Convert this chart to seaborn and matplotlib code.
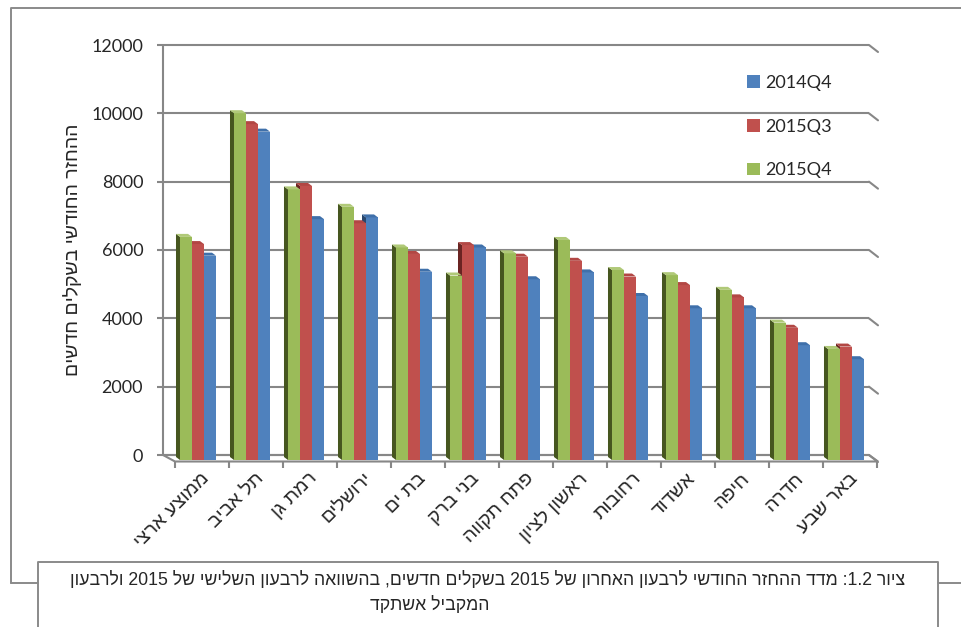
import re
import numpy as np
import pandas as pd
import matplotlib
matplotlib.use("Agg")
import matplotlib.pyplot as plt
import seaborn as sns
from matplotlib.patches import Polygon, Patch
from matplotlib.lines import Line2D
from matplotlib.transforms import ScaledTranslation

# ---------------- data ----------------
cities = ["ממוצע ארצי", "תל אביב", "רמת גן", "ירושלים", "בת ים", "בני ברק",
          "פתח תקווה", "ראשון לציון", "רחובות", "אשדוד", "חיפה", "חדרה", "באר שבע"]
q4_2015 = [6530, 10150, 7920, 7410, 6220, 5400, 6050, 6440, 5560, 5410, 4980, 4020, 3250]
q3_2015 = [6320, 9830, 8020, 6930, 6030, 6290, 5950, 5830, 5370, 5120, 4760, 3870, 3320]
q4_2014 = [5980, 9610, 7050, 7100, 5510, 6220, 5290, 5490, 4800, 4440, 4440, 3360, 2950]
series_names = ["2015Q4", "2015Q3", "2014Q4"]
legend_order = ["2014Q4", "2015Q3", "2015Q4"]
yticks = [0, 2000, 4000, 6000, 8000, 10000, 12000]
ylabel = "ההחזר החודשי בשקלים חדשים"
caption1 = "ציור 1.2: מדד ההחזר החודשי לרבעון האחרון של 2015 בשקלים חדשים, בהשוואה לרבעון השלישי של 2015 ולרבעון"
caption2 = "המקביל אשתקד"

colors = {"2015Q4": "#9BBB59", "2015Q3": "#C0504D", "2014Q4": "#4F81BD"}
side_colors = {"2015Q4": "#46561f", "2015Q3": "#6a2422", "2014Q4": "#29476d"}
top_colors = {"2015Q4": "#b0c978", "2015Q3": "#b24744", "2014Q4": "#3f70aa"}
GRID = "#878787"


def visual(s):
    """logical (RTL) Hebrew -> visual left-to-right order for matplotlib"""
    out = []
    for tok in reversed(s.split(" ")):
        r = tok[::-1]
        r = re.sub(r"[0-9][0-9.]*[0-9]|[0-9]", lambda m: m.group(0)[::-1], r)
        out.append(r)
    return " ".join(out)


df = pd.DataFrame({
    "city": cities * 3,
    "series": ["2015Q4"] * 13 + ["2015Q3"] * 13 + ["2014Q4"] * 13,
    "value": q4_2015 + q3_2015 + q4_2014,
})

sns.set_style("white")
HEB = ["Liberation Sans", "DejaVu Sans"]
NUM = ["Lato", "DejaVu Sans"]

W, H = 962, 627
fig = plt.figure(figsize=(W / 100, H / 100), dpi=100)
fig.patch.set_facecolor("white")


def axes_px(x0, y0, x1, y1):
    return fig.add_axes([x0 / W, 1 - y1 / H, (x1 - x0) / W, (y1 - y0) / H])


# ---------------- back wall ----------------
wall = axes_px(163, 45, 869, 455)
wall.set_zorder(0)
wall.set_xlim(0, 1)
wall.set_ylim(0, 12000)
wall.patch.set_visible(False)
for s in wall.spines.values():
    s.set_visible(False)
wall.set_xticks([])
wall.set_yticks(yticks)
wall.set_yticklabels([str(v) for v in yticks], family=NUM, fontsize=13)
wall.tick_params(axis="y", length=4.3, width=1.5, color=GRID, pad=10, left=True)


def wall_pt(xp, yp):
    return wall.transData.inverted().transform((xp, H - yp))


# floor
fl = [wall_pt(163, 455), wall_pt(869, 455), wall_pt(878, 461.5), wall_pt(175, 461.5)]
wall.add_patch(Polygon(fl, closed=True, facecolor="white", edgecolor=GRID, lw=1.5,
                       clip_on=False, zorder=1))
wall.hlines(yticks, 0, 1, colors=GRID, lw=1.5, clip_on=False, zorder=2)
wall.vlines(0, 0, 12000, colors=GRID, lw=1.5, clip_on=False, zorder=2)
for v in yticks:
    x1p, y1p = wall.transData.transform((1, v))
    p2 = wall_pt(x1p + 9, (H - y1p) + 7)
    wall.plot([1, p2[0]], [v, p2[1]], color=GRID, lw=1.5, clip_on=False, zorder=2)

# ---------------- bars ----------------
bars = axes_px(171, 50, 873, 460)
bars.set_zorder(1)
sns.barplot(data=df, x="city", y="value", hue="series", order=cities,
            hue_order=series_names, palette=colors, saturation=1, width=0.667,
            errorbar=None, legend=False, linewidth=0, ax=bars)
bars.set_xlim(-0.5, 12.5)
bars.set_ylim(0, 12000)
bars.axis("off")
bars.patch.set_visible(False)

inv = bars.transData.inverted()
o = inv.transform((500, 300))
d = inv.transform((500 - 4, 300 + 3)) - o
ddx, ddy = d

for h, cont in enumerate(bars.containers):
    name = series_names[h]
    z = 10 - 2 * h
    for rect in cont:
        x0 = rect.get_x()
        x1 = x0 + rect.get_width()
        y1 = rect.get_height()
        rect.set_zorder(z)
        side = [(x0, 0), (x0, y1), (x0 + ddx, y1 + ddy), (x0 + ddx, ddy)]
        top = [(x0, y1), (x1, y1), (x1 + ddx, y1 + ddy), (x0 + ddx, y1 + ddy)]
        bars.add_patch(Polygon(side, closed=True, facecolor=side_colors[name],
                               lw=0, zorder=z - 0.5, clip_on=False))
        bars.add_patch(Polygon(top, closed=True, facecolor=top_colors[name],
                               lw=0, zorder=z + 0.5, clip_on=False))
bars.set_xlim(-0.5, 12.5)
bars.set_ylim(0, 12000)

# ---------------- category axis (floor front) ----------------
floor = axes_px(175, 455, 877, 462)
floor.set_zorder(2)
floor.patch.set_visible(False)
for s in floor.spines.values():
    s.set_visible(False)
floor.set_xlim(-0.5, 12.5)
floor.set_ylim(0, 1)
floor.set_yticks([])
floor.set_xticks(np.arange(13))
floor.set_xticks(np.arange(-0.5, 13, 1), minor=True)
floor.set_xticklabels([visual(c) for c in cities], rotation=45, ha="right",
                      va="center", rotation_mode="anchor", family=HEB, fontsize=14)
floor.tick_params(axis="x", which="major", length=0, pad=10)
floor.tick_params(axis="x", which="minor", length=4.3, width=1.5, color=GRID, bottom=True)
shift = ScaledTranslation(5 / 100, 0, fig.dpi_scale_trans)
for lab in floor.get_xticklabels():
    lab.set_transform(lab.get_transform() + shift)

# ---------------- texts / legend ----------------
fig.text(73 / W, 1 - 250 / H, visual(ylabel), rotation=90, ha="center", va="center",
         fontsize=14, family=HEB)

handles = [Patch(facecolor=colors[n], edgecolor="none") for n in legend_order]
fig.legend(handles, legend_order, loc="upper left", bbox_to_anchor=(747 / W, 1 - 75 / H),
           frameon=False, borderpad=0, borderaxespad=0, handlelength=0.7,
           handleheight=0.7, handletextpad=0.3, labelspacing=1.53,
           prop={"family": NUM, "size": 13})


def fline(xs, ys):
    fig.add_artist(Line2D([x / W for x in xs], [1 - y / H for y in ys],
                          transform=fig.transFigure, color="#8a8a8a", lw=1.4))


fline([10.7, 10.7, 963], [583, 8, 8])
fline([10.7, 38.3], [583, 583])
fline([938.3, 963], [583, 583])
fline([38.3, 38.3, 938.3, 938.3], [630, 561.7, 561.7, 630])

fig.text(488 / W, 1 - 580 / H, visual(caption1), ha="center", va="center",
         fontsize=12.7, family=HEB)
fig.text(430 / W, 1 - 605 / H, visual(caption2), ha="center", va="center",
         fontsize=12.7, family=HEB)

fig.savefig("out.png", dpi=100, facecolor="white")
